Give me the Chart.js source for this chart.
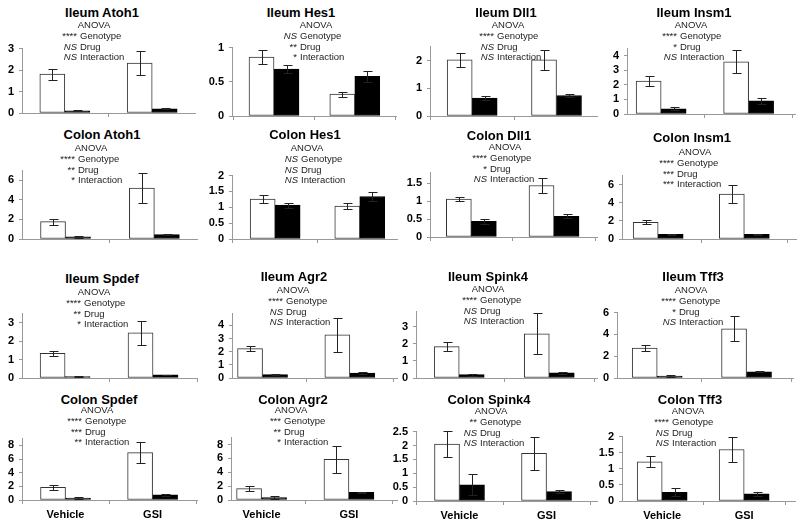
<!DOCTYPE html>
<html><head><meta charset="utf-8">
<script src="https://cdn.jsdelivr.net/npm/chart.js@4.4.1/dist/chart.umd.min.js"></script>
<style>
html,body{margin:0;padding:0;background:#fff;width:800px;height:529px;overflow:hidden;position:relative;font-family:"Liberation Sans",Arial,sans-serif;}
canvas{position:absolute;}
.t{position:absolute;width:200px;text-align:center;font-weight:bold;font-size:13px;line-height:16px;color:#000;white-space:nowrap;}
.a{position:absolute;font-size:9.5px;line-height:12px;color:#222;white-space:nowrap;}
.c{width:80px;text-align:center;}
.p{width:60px;text-align:right;}
</style></head><body>
<script>
// ---------- data ----------
const categories = ['Vehicle', 'GSI'];
const panelTitles = ['Ileum Atoh1','Ileum Hes1','Ileum Dll1','Ileum Insm1',
  'Colon Atoh1','Colon Hes1','Colon Dll1','Colon Insm1',
  'Ileum Spdef','Ileum Agr2','Ileum Spink4','Ileum Tff3',
  'Colon Spdef','Colon Agr2','Colon Spink4','Colon Tff3'];
const whiteMeans = [[1.81,2.33],[0.86,0.32],[2.02,2.02],[2.27,3.59],
  [1.78,5.2],[1.26,1.04],[1.06,1.44],[1.83,4.96],
  [1.34,2.45],[2.23,3.28],[1.84,2.59],[2.75,4.51],
  [1.85,6.95],[1.65,5.85],[2.05,1.72],[1.22,1.6]];
const whiteErrors = [[0.26,0.56],[0.1,0.035],[0.24,0.37],[0.36,0.8],
  [0.3,1.55],[0.12,0.1],[0.06,0.22],[0.22,1.04],
  [0.12,0.66],[0.2,1.3],[0.25,1.2],[0.27,1.15],
  [0.4,1.55],[0.35,1.9],[0.46,0.6],[0.17,0.4]];
const blackMeans = [[0.1,0.2],[0.685,0.58],[0.65,0.74],[0.36,0.9],
  [0.22,0.45],[1.07,1.34],[0.44,0.58],[0.52,0.52],
  [0.08,0.17],[0.26,0.38],[0.2,0.3],[0.18,0.57],
  [0.28,0.75],[0.35,1.1],[0.58,0.34],[0.27,0.22]];
const blackErrors = [[0.02,0.03],[0.055,0.08],[0.08,0.07],[0.1,0.19],
  [0.13,0.05],[0.08,0.13],[0.07,0.06],[0.07,0.07],
  [0.04,0.02],[0.04,0.08],[0.06,0.06],[0.05,0.05],
  [0.18,0.2],[0.2,0.1],[0.38,0.05],[0.13,0.05]];
const sigGenotype = ['****','NS','****','****','****','NS','****','****','****','****','****','****','****','***','**','****'];
const sigDrug = ['NS','**','NS','*','**','NS','*','***','**','NS','NS','*','***','**','NS','NS'];
const sigInteraction = ['NS','*','NS','NS','*','NS','NS','***','*','NS','NS','NS','**','*','NS','NS'];
const yMax = [3,1,2.5,4.5, 7,2,1.8,7, 3.5,4.9,3.9,6, 9,9,2.5,2];
const yStep = [1,0.5,1,1, 2,0.5,0.5,2, 1,1,1,2, 2,2,0.5,0.5];

// ---------- layout (page pixels) ----------
const plotBox = [[22,195,45,113],[232,396,44,116],[430,597,43,116],[627,795,45,114],
  [22,197,167,239],[232,397,172,239],[430,597,169,237],[622,796,172,239],
  [22,197,310,378],[232,397,310,378],[416,597,308,378],[617,793,309,378],
  [22,197,435,500],[231,397,434,500],[416,597,428,501],[622,795,433,501]];
const xRange = [[-0.49,1.49],[-0.52,1.51],[-0.5,1.48],[-0.39,1.53],
  [-0.49,1.48],[-0.51,1.44],[-0.5,1.52],[-0.42,1.6],
  [-0.49,1.5],[-0.35,1.54],[-0.48,1.53],[-0.45,1.52],
  [-0.5,1.51],[-0.35,1.55],[-0.5,1.58],[-0.49,1.62]];
const titlePos = [[102,13],[301,13],[506,13],[694,13],
  [102,135],[305,135],[499,136],[692,138],
  [102,279],[294,277],[488,277],[693,277],
  [99,400],[293,400],[489,400],[690,400]];
const anovaPos = [[94,25,80],[316,25,300],[508,25,497],[691,25,680],
  [91,148,78],[307,148,301],[505,147,490],[695,152,677],
  [94,292,84],[293,290,286],[488,289,480],[691,290,679],
  [97,410,85],[291,410,284],[491,411,480],[688,411,672]];

Chart.defaults.font.family = '"Liberation Sans", Arial, sans-serif';

const errorBarPlugin = {
  id: 'errorBars',
  afterDatasetsDraw(chart) {
    const ctx = chart.ctx, ys = chart.scales.y;
    chart.data.datasets.forEach((ds, di) => {
      const meta = chart.getDatasetMeta(di);
      meta.data.forEach((el, i) => {
        const v = ds.data[i].y, e = ds.errorValues[i];
        const x = Math.round(el.x) + 0.5;
        const yt = Math.round(ys.getPixelForValue(v + e)) + 0.5;
        const yb = Math.round(ys.getPixelForValue(v - e)) + 0.5;
        ctx.save();
        ctx.strokeStyle = '#222'; ctx.lineWidth = 1;
        ctx.beginPath();
        ctx.moveTo(x, yt); ctx.lineTo(x, yb);
        ctx.moveTo(x - 4, yt); ctx.lineTo(x + 5, yt);
        ctx.moveTo(x - 4, yb); ctx.lineTo(x + 5, yb);
        ctx.stroke();
        ctx.restore();
      });
    });
  }
};

function addDiv(cls, html, left, top) {
  const d = document.createElement('div');
  d.className = cls; d.innerHTML = html;
  d.style.left = left + 'px'; d.style.top = top + 'px';
  document.body.appendChild(d);
}
function sig(s) { return s === 'NS' ? '<i>NS</i>' : s; }

for (let p = 0; p < 16; p++) {
  const [x0, x1, yTop, y0] = plotBox[p];
  const bottomRow = p >= 12;
  const axisW = 30, topPad = 8, rightPad = 6, bottomH = bottomRow ? 26 : 12;
  const W = x1 - x0 + axisW + rightPad, H = y0 - yTop + topPad + bottomH;
  const cv = document.createElement('canvas');
  cv.width = W; cv.height = H;
  cv.style.width = W + 'px'; cv.style.height = H + 'px';
  cv.style.left = (x0 - axisW) + 'px'; cv.style.top = (yTop - topPad) + 'px';
  document.body.appendChild(cv);

  const tickFont = { size: 11, weight: 'bold' };
  new Chart(cv, {
    type: 'bar',
    data: {
      datasets: [
        { data: categories.map((c, i) => ({ x: i, y: whiteMeans[p][i] })), errorValues: whiteErrors[p],
          backgroundColor: '#fff', borderColor: '#333', borderWidth: 1, borderSkipped: false, barThickness: 25 },
        { data: categories.map((c, i) => ({ x: i, y: blackMeans[p][i] })), errorValues: blackErrors[p],
          backgroundColor: '#000', borderColor: '#000', borderWidth: 1, borderSkipped: false, barThickness: 25 }
      ]
    },
    options: {
      responsive: false, animation: false, devicePixelRatio: 1,
      layout: { padding: { top: topPad, right: rightPad, left: 0, bottom: 0 } },
      plugins: { legend: { display: false }, tooltip: { enabled: false }, title: { display: false } },
      scales: {
        x: {
          type: 'linear', min: xRange[p][0], max: xRange[p][1], offset: false,
          afterBuildTicks: s => { s.ticks = categories.map((c, i) => ({ value: i })); },
          afterFit: s => { s.height = bottomH; },
          grid: { display: true, offset: true, drawOnChartArea: false, drawTicks: true, tickLength: 4, color: '#999' },
          border: { display: true, color: '#999', width: 1 },
          ticks: { display: bottomRow, padding: 4, maxRotation: 0, autoSkip: false, color: '#000', font: tickFont,
            callback: v => categories[Math.round(v)] }
        },
        y: {
          type: 'linear', min: 0, max: yMax[p],
          afterBuildTicks: s => {
            const t = [];
            for (let k = 0; k * yStep[p] <= yMax[p] + 1e-9; k++) t.push({ value: Math.round(k * yStep[p] * 100) / 100 });
            s.ticks = t;
          },
          afterFit: s => { s.width = axisW; },
          grid: { drawOnChartArea: false, drawTicks: true, tickLength: 3, color: '#999' },
          border: { display: true, color: '#999', width: 1 },
          ticks: { autoSkip: false, padding: 5, color: '#000', font: tickFont,
            callback: v => String(Math.round(v * 100) / 100) }
        }
      }
    },
    plugins: [errorBarPlugin]
  });

  const [tx, ty] = titlePos[p];
  addDiv('t', panelTitles[p], tx - 100, ty - 8);
  const [ax, ay, col] = anovaPos[p];
  addDiv('a c', 'ANOVA', ax - 40, ay - 6);
  const prefixes = [sigGenotype[p], sigDrug[p], sigInteraction[p]];
  const words = ['Genotype', 'Drug', 'Interaction'];
  const offs = [11, 21.5, 32];
  for (let k = 0; k < 3; k++) {
    addDiv('a p', sig(prefixes[k]), col - 63, ay + offs[k] - 6);
    addDiv('a', words[k], col, ay + offs[k] - 6);
  }
}
</script>
</body></html>
